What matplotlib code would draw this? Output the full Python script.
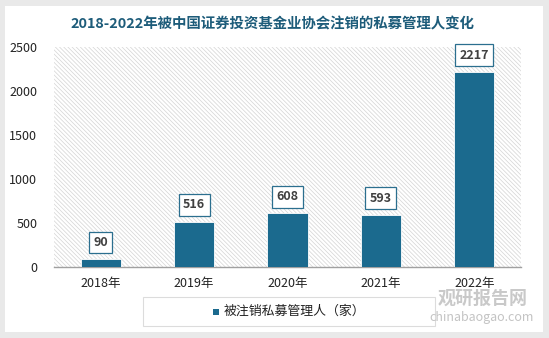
import matplotlib
matplotlib.use("Agg")
import matplotlib.pyplot as plt
from matplotlib.patches import Rectangle

plt.rcParams['font.family'] = ['Noto Sans CJK SC', 'DejaVu Sans']

# data
years = ['2018年', '2019年', '2020年', '2021年', '2022年']
counts = [90, 516, 608, 593, 2217]
yticks = [0, 500, 1000, 1500, 2000, 2500]
title = '2018-2022年被中国证券投资基金业协会注销的私募管理人变化'
series_name = '被注销私募管理人（家）'

bar_color = '#1b6a8e'
title_color = '#1d5c7a'

W, H = 549, 338
fig = plt.figure(figsize=(W / 100, H / 100), dpi=100)
fig.patch.set_facecolor('#e9e9e9')

# white card
fig.patches.append(Rectangle((5 / W, 6 / H), 538 / W, 326 / H, transform=fig.transFigure,
                             facecolor='white', edgecolor='none', zorder=-10))

ax = fig.add_axes([54 / W, 1 - 267 / H, 467 / W, 220 / H])
ax.set_facecolor('white')
ax.set_xlim(-0.5, len(years) - 0.5)
ax.set_ylim(0, 2500)

# hatched background
plt.rcParams['hatch.color'] = '#d4d4d4'
plt.rcParams['hatch.linewidth'] = 0.5
ax.add_patch(Rectangle((0, 0), 1, 1, transform=ax.transAxes, facecolor='white',
                       edgecolor='#d4d4d4', hatch='\\' * 8, linewidth=0, zorder=0))

x = list(range(len(years)))
ax.bar(x, counts, width=0.43, color=bar_color, zorder=3,
       edgecolor='white', linewidth=0.6)

for xi, v in zip(x, counts):
    ax.annotate(str(v), (xi, v), xytext=(0, 12), textcoords='offset points',
                ha='center', va='center', fontsize=9, fontweight='bold', color='#404040',
                bbox=dict(boxstyle='square,pad=0.35', facecolor='white',
                          edgecolor='#2b6f8f', linewidth=0.9), zorder=5)

ax.set_xticks(x)
ax.set_xticklabels(years, fontsize=9, color='#222222')
ax.set_yticks(yticks)
ax.set_yticklabels([str(t) for t in yticks], fontsize=9, color='#222222')
ax.tick_params(length=0)
ax.tick_params(axis='x', pad=7)
ax.tick_params(axis='y', pad=12)
for s in ['top', 'right', 'left']:
    ax.spines[s].set_visible(False)
ax.spines['bottom'].set_color('#a0a0a0')
ax.spines['bottom'].set_linewidth(1.0)

fig.text(272 / W, 1 - 24 / H, title, ha='center', va='center', fontsize=10.4,
         fontweight='bold', color=title_color)

# legend box
fig.patches.append(Rectangle((143 / W, 1 - 326 / H), 292 / W, 29 / H, transform=fig.transFigure,
                             facecolor='white', edgecolor='#dcdcdc', linewidth=0.8, zorder=1))
fig.patches.append(Rectangle((213 / W, 1 - 314.5 / H), 6 / W, 6 / H, transform=fig.transFigure,
                             facecolor=bar_color, edgecolor='none', zorder=2))
fig.text(224 / W, 1 - 311.5 / H, series_name, ha='left', va='center', fontsize=9.3,
         color='#222222')

# watermark
fig.text(483 / W, 1 - 298 / H, '观研报告网', ha='center', va='center', fontsize=13,
         fontweight='bold', color='#c4c4c4', alpha=0.9)
fig.text(482 / W, 1 - 318 / H, 'chinabaogao.com', ha='center', va='center', fontsize=9,
         color='#bdbdbd', alpha=0.9)

fig.savefig('out.png', dpi=100, facecolor=fig.get_facecolor())
